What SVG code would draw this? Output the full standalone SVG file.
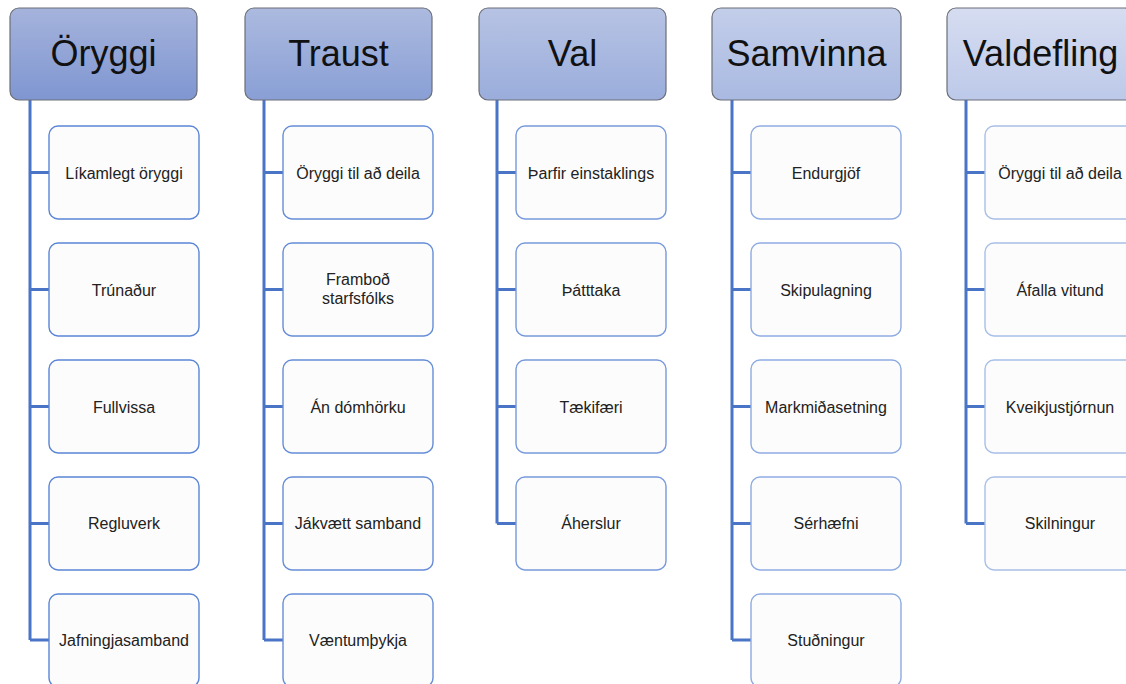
<svg xmlns="http://www.w3.org/2000/svg" width="1126" height="684" viewBox="0 0 1126 684">
  <defs>
    <linearGradient id="g1" x1="0" y1="0" x2="0" y2="1"><stop offset="0" stop-color="#a5b3dc"/><stop offset="1" stop-color="#7f96d1"/></linearGradient>
    <linearGradient id="g2" x1="0" y1="0" x2="0" y2="1"><stop offset="0" stop-color="#acbadf"/><stop offset="1" stop-color="#899fd5"/></linearGradient>
    <linearGradient id="g3" x1="0" y1="0" x2="0" y2="1"><stop offset="0" stop-color="#b7c3e4"/><stop offset="1" stop-color="#9aaddb"/></linearGradient>
    <linearGradient id="g4" x1="0" y1="0" x2="0" y2="1"><stop offset="0" stop-color="#c3ceea"/><stop offset="1" stop-color="#a9b9e1"/></linearGradient>
    <linearGradient id="g5" x1="0" y1="0" x2="0" y2="1"><stop offset="0" stop-color="#d6ddf1"/><stop offset="1" stop-color="#bdc9e9"/></linearGradient>
  </defs>
  <style>
    .hdr { stroke: #6b6f78; stroke-width: 1.2; }
    .htxt { font-family: "Liberation Sans", Arial, sans-serif; font-size: 36px; fill: #111; text-anchor: middle; }
    .box { fill: #fcfcfc; stroke-width: 1.4; }
    .c1 { stroke: #5a85d6; } .c2 { stroke: #668dd8; } .c3 { stroke: #7899dc; } .c4 { stroke: #8eabe2; } .c5 { stroke: #a8bfe8; }
    .ctxt { font-family: "Liberation Sans", Arial, sans-serif; font-size: 16px; fill: #222; text-anchor: middle; }
    .conn { fill: none; stroke: #4a74c6; stroke-width: 3; }
  </style>
  <rect width="1126" height="684" fill="#ffffff"/>

  <g id="connectors">
    <path class="conn" d="M30,100 V640 M30,172.5 H49 M30,289.5 H49 M30,406.5 H49 M30,523.5 H49 M30,640 H49"/>
    <path class="conn" d="M264,100 V640 M264,172.5 H283 M264,289.5 H283 M264,406.5 H283 M264,523.5 H283 M264,640 H283"/>
    <path class="conn" d="M497,100 V523.5 M497,172.5 H516 M497,289.5 H516 M497,406.5 H516 M497,523.5 H516"/>
    <path class="conn" d="M732,100 V640 M732,172.5 H751 M732,289.5 H751 M732,406.5 H751 M732,523.5 H751 M732,640 H751"/>
    <path class="conn" d="M966,100 V523.5 M966,172.5 H985 M966,289.5 H985 M966,406.5 H985 M966,523.5 H985"/>
  </g>

  <!-- Column 1 -->
  <g id="h1"><rect class="hdr" x="10" y="8" width="187" height="92" rx="9" fill="url(#g1)"/><text class="htxt" x="103.5" y="66">Öryggi</text></g>
  <g id="n1a"><rect class="box c1" x="49" y="126" width="150" height="93" rx="9"/><text class="ctxt" x="124" y="178.5">Líkamlegt öryggi</text></g>
  <g id="n1b"><rect class="box c1" x="49" y="243" width="150" height="93" rx="9"/><text class="ctxt" x="124" y="295.5">Trúnaður</text></g>
  <g id="n1c"><rect class="box c1" x="49" y="360" width="150" height="93" rx="9"/><text class="ctxt" x="124" y="412.5">Fullvissa</text></g>
  <g id="n1d"><rect class="box c1" x="49" y="477" width="150" height="93" rx="9"/><text class="ctxt" x="124" y="528.5">Regluverk</text></g>
  <g id="n1e"><rect class="box c1" x="49" y="594" width="150" height="93" rx="9"/><text class="ctxt" x="124" y="645.5">Jafningjasamband</text></g>

  <!-- Column 2 -->
  <g id="h2"><rect class="hdr" x="245" y="8" width="187" height="92" rx="9" fill="url(#g2)"/><text class="htxt" x="338.5" y="66">Traust</text></g>
  <g id="n2a"><rect class="box c2" x="283" y="126" width="150" height="93" rx="9"/><text class="ctxt" x="358" y="178.5">Öryggi til að deila</text></g>
  <g id="n2b"><rect class="box c2" x="283" y="243" width="150" height="93" rx="9"/><text class="ctxt" x="358" y="285">Framboð</text><text class="ctxt" x="358" y="304">starfsfólks</text></g>
  <g id="n2c"><rect class="box c2" x="283" y="360" width="150" height="93" rx="9"/><text class="ctxt" x="358" y="412.5">Án dómhörku</text></g>
  <g id="n2d"><rect class="box c2" x="283" y="477" width="150" height="93" rx="9"/><text class="ctxt" x="358" y="528.5">Jákvætt samband</text></g>
  <g id="n2e"><rect class="box c2" x="283" y="594" width="150" height="93" rx="9"/><text class="ctxt" x="358" y="645.5">Væntumþykja</text></g>

  <!-- Column 3 -->
  <g id="h3"><rect class="hdr" x="479" y="8" width="187" height="92" rx="9" fill="url(#g3)"/><text class="htxt" x="572.5" y="66">Val</text></g>
  <g id="n3a"><rect class="box c3" x="516" y="126" width="150" height="93" rx="9"/><text class="ctxt" x="591" y="178.5">Þarfir einstaklings</text></g>
  <g id="n3b"><rect class="box c3" x="516" y="243" width="150" height="93" rx="9"/><text class="ctxt" x="591" y="295.5">Þátttaka</text></g>
  <g id="n3c"><rect class="box c3" x="516" y="360" width="150" height="93" rx="9"/><text class="ctxt" x="591" y="412.5">Tækifæri</text></g>
  <g id="n3d"><rect class="box c3" x="516" y="477" width="150" height="93" rx="9"/><text class="ctxt" x="591" y="528.5">Áherslur</text></g>

  <!-- Column 4 -->
  <g id="h4"><rect class="hdr" x="712" y="8" width="189" height="92" rx="9" fill="url(#g4)"/><text class="htxt" x="806.5" y="66">Samvinna</text></g>
  <g id="n4a"><rect class="box c4" x="751" y="126" width="150" height="93" rx="9"/><text class="ctxt" x="826" y="178.5">Endurgjöf</text></g>
  <g id="n4b"><rect class="box c4" x="751" y="243" width="150" height="93" rx="9"/><text class="ctxt" x="826" y="295.5">Skipulagning</text></g>
  <g id="n4c"><rect class="box c4" x="751" y="360" width="150" height="93" rx="9"/><text class="ctxt" x="826" y="412.5">Markmiðasetning</text></g>
  <g id="n4d"><rect class="box c4" x="751" y="477" width="150" height="93" rx="9"/><text class="ctxt" x="826" y="528.5">Sérhæfni</text></g>
  <g id="n4e"><rect class="box c4" x="751" y="594" width="150" height="93" rx="9"/><text class="ctxt" x="826" y="645.5">Stuðningur</text></g>

  <!-- Column 5 -->
  <g id="h5"><rect class="hdr" x="947" y="8" width="187" height="92" rx="9" fill="url(#g5)"/><text class="htxt" x="1040.5" y="66">Valdefling</text></g>
  <g id="n5a"><rect class="box c5" x="985" y="126" width="150" height="93" rx="9"/><text class="ctxt" x="1060" y="178.5">Öryggi til að deila</text></g>
  <g id="n5b"><rect class="box c5" x="985" y="243" width="150" height="93" rx="9"/><text class="ctxt" x="1060" y="295.5">Áfalla vitund</text></g>
  <g id="n5c"><rect class="box c5" x="985" y="360" width="150" height="93" rx="9"/><text class="ctxt" x="1060" y="412.5">Kveikjustjórnun</text></g>
  <g id="n5d"><rect class="box c5" x="985" y="477" width="150" height="93" rx="9"/><text class="ctxt" x="1060" y="528.5">Skilningur</text></g>
</svg>
